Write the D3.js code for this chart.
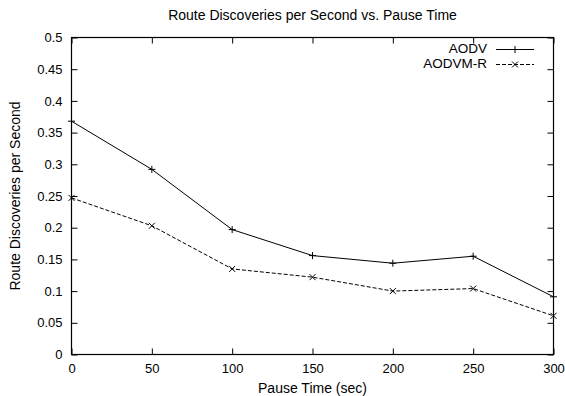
<!DOCTYPE html>
<html>
<head>
<meta charset="utf-8">
<script src="https://cdn.jsdelivr.net/npm/d3@7"></script>
<style>
  body { margin: 0; background: #fff; }
  text { font-family: "Liberation Sans", Arial, sans-serif; fill: #000; }
</style>
</head>
<body>
<div id="chart"></div>
<script>
(function(d3){

  // data
  var pauseTimes = [0, 50, 100, 150, 200, 250, 300],
      aodv       = [0.368, 0.292, 0.197, 0.156, 0.144, 0.155, 0.091],
      aodvmr     = [0.247, 0.203, 0.135, 0.122, 0.100, 0.104, 0.061],
      xTicks     = [0, 50, 100, 150, 200, 250, 300],
      yTicks     = [0, 0.05, 0.1, 0.15, 0.2, 0.25, 0.3, 0.35, 0.4, 0.45, 0.5],
      seriesNames = ['AODV', 'AODVM-R'];

  var size = {width: 565, height: 396},
      plot = {left: 71.5, right: 553.5, top: 37.5, bottom: 354.5},
      svg, x, y, line;

  svg = d3.select('#chart').append('svg')
      .attr('width', size.width)
      .attr('height', size.height)
      .style('font-size', '14px');

  x = d3.scaleLinear().domain([0, 300]).range([plot.left, plot.right]);
  y = d3.scaleLinear().domain([0, 0.5]).range([plot.bottom, plot.top]);

  // axes, ticks pointing inward like gnuplot
  function axisStyle(sel) {
    sel.select('.domain').remove();
    sel.selectAll('.tick line').attr('stroke', '#000');
    sel.selectAll('.tick text').style('font-size', '13px').attr('font-family', null);
  }

  svg.append('g')
      .attr('transform', 'translate(0,' + plot.bottom + ')')
      .call(d3.axisBottom(x).tickValues(xTicks).tickSizeInner(-6).tickSizeOuter(0).tickPadding(9))
      .call(axisStyle)
      .selectAll('.tick text').attr('dy', '0.71em');

  svg.append('g')
      .attr('transform', 'translate(0,' + plot.top + ')')
      .call(d3.axisTop(x).tickValues(xTicks).tickSizeInner(-6).tickSizeOuter(0).tickFormat(''))
      .call(axisStyle);

  svg.append('g')
      .attr('transform', 'translate(' + plot.left + ',0)')
      .call(d3.axisLeft(y).tickValues(yTicks).tickSizeInner(-6).tickSizeOuter(0).tickPadding(9)
        .tickFormat(function(d){ return String(+d.toFixed(2)); }))
      .call(axisStyle);

  svg.append('g')
      .attr('transform', 'translate(' + plot.right + ',0)')
      .call(d3.axisRight(y).tickValues(yTicks).tickSizeInner(-6).tickSizeOuter(0).tickFormat(''))
      .call(axisStyle);

  // border
  svg.append('rect')
      .attr('x', plot.left)
      .attr('y', plot.top)
      .attr('width', plot.right - plot.left)
      .attr('height', plot.bottom - plot.top)
      .attr('fill', 'none')
      .attr('stroke', '#000')
      .attr('stroke-width', 1.2);

  // titles
  svg.append('text')
      .attr('x', (plot.left + plot.right) / 2)
      .attr('y', 20)
      .attr('text-anchor', 'middle')
      .text('Route Discoveries per Second vs. Pause Time');

  svg.append('text')
      .attr('x', (plot.left + plot.right) / 2)
      .attr('y', 393)
      .attr('text-anchor', 'middle')
      .text('Pause Time (sec)');

  svg.append('text')
      .attr('transform', 'translate(20,' + ((plot.top + plot.bottom) / 2) + ') rotate(-90)')
      .attr('text-anchor', 'middle')
      .text('Route Discoveries per Second');

  // series
  var series = [
    {name: seriesNames[0], values: aodv, dash: null, mark: 'plus'},
    {name: seriesNames[1], values: aodvmr, dash: '4,2', mark: 'cross'}
  ];

  line = d3.line()
      .x(function(d, i){ return x(pauseTimes[i]); })
      .y(function(d){ return y(d); });

  function drawMark(sel, type, cx, cy) {
    var r = 3.5, p;
    if (type === 'plus') {
      p = 'M' + (cx - r) + ',' + cy + 'H' + (cx + r) + 'M' + cx + ',' + (cy - r) + 'V' + (cy + r);
    } else {
      r = 3;
      p = 'M' + (cx - r) + ',' + (cy - r) + 'L' + (cx + r) + ',' + (cy + r) +
          'M' + (cx - r) + ',' + (cy + r) + 'L' + (cx + r) + ',' + (cy - r);
    }
    sel.append('path').attr('d', p).attr('stroke', '#000').attr('stroke-width', 1).attr('fill', 'none');
  }

  series.forEach(function(s, k) {
    svg.append('path')
        .datum(s.values)
        .attr('d', line)
        .attr('fill', 'none')
        .attr('stroke', '#000')
        .attr('stroke-width', 1)
        .attr('stroke-dasharray', s.dash);

    var marks = svg.append('g');
    s.values.forEach(function(d, i) {
      drawMark(marks, s.mark, x(pauseTimes[i]), y(d));
    });

    // legend entry
    var ly = 49.5 + k * 15;
    svg.append('text')
        .attr('x', 487)
        .attr('y', ly + 3.5)
        .attr('text-anchor', 'end')
        .style('font-size', '13.5px')
        .text(s.name);
    svg.append('line')
        .attr('x1', 496).attr('x2', 534)
        .attr('y1', ly).attr('y2', ly)
        .attr('stroke', '#000')
        .attr('stroke-width', 1)
        .attr('stroke-dasharray', s.dash);
    drawMark(svg, s.mark, 515, ly);
  });

})(d3);
</script>
</body>
</html>
